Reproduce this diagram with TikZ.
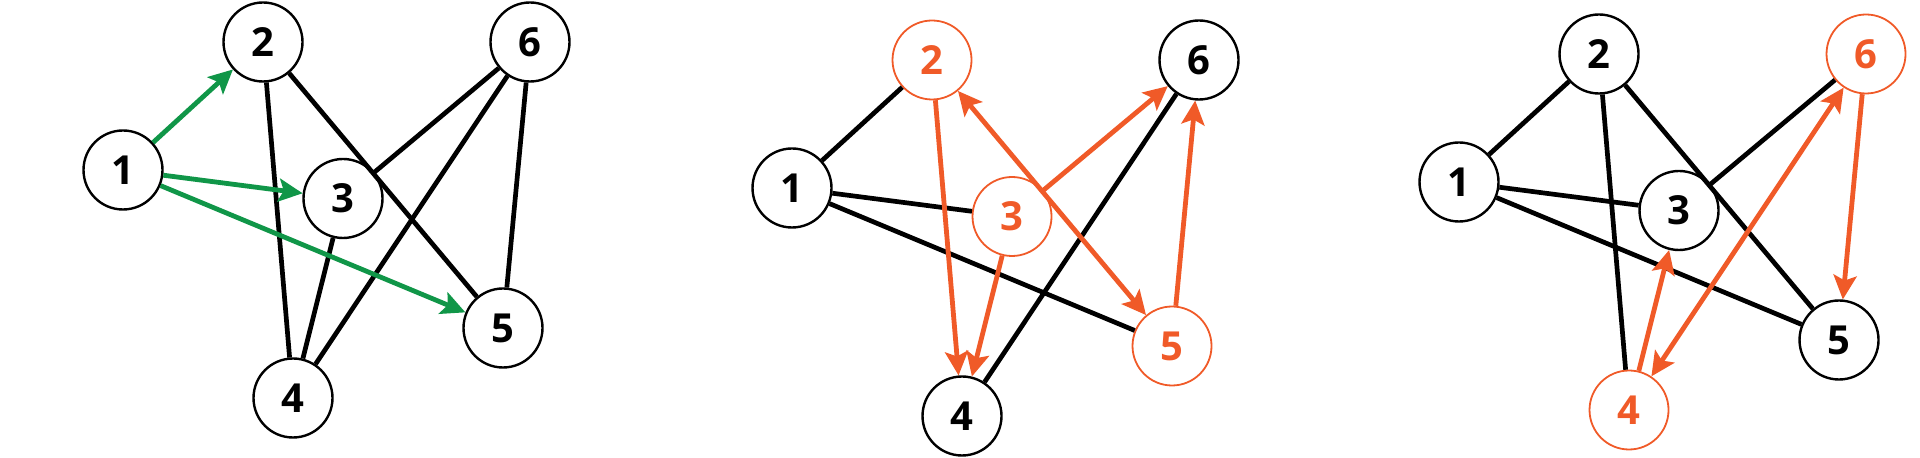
\documentclass[tikz,border=0pt]{standalone}
\usepackage{fontspec}
\setmainfont{Open Sans}
\usepackage{xcolor}
\usetikzlibrary{arrows.meta}
\definecolor{gr}{RGB}{16,150,72}
\definecolor{hot}{RGB}{240,90,40}
\tikzset{vertex/.style = {circle, draw = black, line width = 1.2pt, minimum size = 39.5pt, inner sep = 0pt, font = \fontsize{20}{20}\selectfont\bfseries}}
\tikzset{vertex hot/.style = {vertex, draw = hot, text = hot, line width = 0.9pt}}
\tikzset{plain edge/.style = {line width = 2.35pt, draw = black}}
\tikzset{tip/.tip = {Stealth[length = 12pt, width = 11.5pt, inset = 2.5pt]}}
\tikzset{green arrow/.style = {line width = 2.4pt, draw = gr, fill = gr, -tip}}
\tikzset{hot arrow/.style = {line width = 2.4pt, draw = hot, fill = hot, -tip}}
\tikzset{hot both/.style = {hot arrow, tip-tip}}

\begin{document}
\begin{tikzpicture}[x = 0.5pt, y = -0.5pt]

  \useasboundingbox (0 , 0) rectangle (1920 , 458);

  % first graph
  \begin{scope}[shift = {(123 , 170)}]
    \node [vertex] (a1) at (0 , 0) {1};
    \node [vertex] (a2) at (140 , -128) {2};
    \node [vertex] (a3) at (220 , 28.5) {3};
    \node [vertex] (a4) at (170 , 228) {4};
    \node [vertex] (a5) at (380 , 158) {5};
    \node [vertex] (a6) at (407 , -128) {6};

    \draw [plain edge] (a2) -- (a4);
    \draw [plain edge] (a2) -- (a5);
    \draw [plain edge] (a3) -- (a6);
    \draw [plain edge] (a3) -- (a4);
    \draw [plain edge] (a4) -- (a6);
    \draw [plain edge] (a6) -- (a5);

    \draw [green arrow] (a1) -- (a2);
    \draw [green arrow] (a1) -- (a3);
    \draw [green arrow] (a1) -- (a5);
  \end{scope}

  % second graph
  \begin{scope}[shift = {(792 , 188)}]
    \node [vertex] (b1) at (0 , 0) {1};
    \node [vertex hot] (b2) at (140 , -128) {2};
    \node [vertex hot] (b3) at (220 , 28.5) {3};
    \node [vertex] (b4) at (170 , 228) {4};
    \node [vertex hot] (b5) at (380 , 158) {5};
    \node [vertex] (b6) at (407 , -128) {6};

    \draw [plain edge] (b1) -- (b2);
    \draw [plain edge] (b1) -- (b3);
    \draw [plain edge] (b1) -- (b5);
    \draw [plain edge] (b4) -- (b6);

    \draw [hot arrow] (b2) -- (b4);
    \draw [hot arrow] (b3) -- (b4);
    \draw [hot arrow] (b3) -- (b6);
    \draw [hot arrow] (b5) -- (b6);
    \draw [hot both] (b2) -- (b5);
  \end{scope}

  % third graph
  \begin{scope}[shift = {(1459 , 182)}]
    \node [vertex] (c1) at (0 , 0) {1};
    \node [vertex] (c2) at (140 , -128) {2};
    \node [vertex] (c3) at (220 , 28.5) {3};
    \node [vertex hot] (c4) at (170 , 228) {4};
    \node [vertex] (c5) at (380 , 158) {5};
    \node [vertex hot] (c6) at (407 , -128) {6};

    \draw [plain edge] (c1) -- (c2);
    \draw [plain edge] (c1) -- (c3);
    \draw [plain edge] (c1) -- (c5);
    \draw [plain edge] (c2) -- (c4);
    \draw [plain edge] (c2) -- (c5);
    \draw [plain edge] (c3) -- (c6);

    \draw [hot arrow] (c4) -- (c3);
    \draw [hot arrow] (c6) -- (c5);
    \draw [hot both] (c4) -- (c6);
  \end{scope}

\end{tikzpicture}
\end{document}
